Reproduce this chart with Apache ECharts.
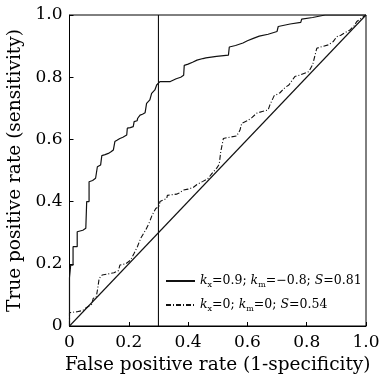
<!DOCTYPE html>
<html>
<head>
<meta charset="utf-8">
<script src="https://cdn.jsdelivr.net/npm/echarts@6/dist/echarts.min.js"></script>
<style>html,body{margin:0;padding:0;background:#fff}#c{width:380px;height:382px}</style>
</head>
<body>
<div id="c"></div>
<script>
// ---- data ----
var tickValues = [0, 0.2, 0.4, 0.6, 0.8, 1.0];
var tickLabels = ['0', '0.2', '0.4', '0.6', '0.8', '1.0'];
var xAxisTitle = 'False positive rate (1-specificity)';
var yAxisTitle = 'True positive rate (sensitivity)';
var nameA = 'kx=0.9; km=-0.8; S=0.81';
var nameB = 'kx=0; km=0; S=0.54';
var curveA = [[0,0],[0,0.155],[0.004,0.155],[0.004,0.196],[0.012,0.196],[0.012,0.255],[0.026,0.255],[0.026,0.303],[0.045,0.308],[0.055,0.314],[0.058,0.314],[0.058,0.40],[0.066,0.40],[0.066,0.464],[0.078,0.468],[0.088,0.475],[0.094,0.475],[0.094,0.512],[0.105,0.518],[0.109,0.518],[0.109,0.548],[0.12,0.551],[0.131,0.555],[0.14,0.56],[0.148,0.566],[0.153,0.566],[0.153,0.593],[0.16,0.597],[0.170,0.603],[0.18,0.607],[0.193,0.614],[0.195,0.614],[0.195,0.636],[0.205,0.638],[0.215,0.641],[0.218,0.657],[0.228,0.66],[0.23,0.668],[0.238,0.678],[0.246,0.681],[0.255,0.686],[0.26,0.716],[0.271,0.727],[0.277,0.748],[0.288,0.759],[0.294,0.775],[0.305,0.786],[0.34,0.786],[0.345,0.79],[0.36,0.795],[0.375,0.80],[0.385,0.806],[0.387,0.838],[0.40,0.842],[0.415,0.848],[0.43,0.855],[0.45,0.86],[0.46,0.862],[0.496,0.867],[0.536,0.871],[0.539,0.897],[0.56,0.902],[0.585,0.91],[0.60,0.917],[0.62,0.925],[0.64,0.932],[0.67,0.938],[0.70,0.947],[0.704,0.963],[0.744,0.971],[0.78,0.976],[0.783,0.987],[0.82,0.992],[0.862,1.0],[1,1]];
var curveB = [[0,0],[0,0.043],[0.006,0.043],[0.026,0.046],[0.045,0.05],[0.055,0.058],[0.066,0.064],[0.075,0.07],[0.08,0.089],[0.09,0.092],[0.095,0.12],[0.1,0.153],[0.11,0.164],[0.15,0.171],[0.165,0.178],[0.17,0.196],[0.19,0.2],[0.206,0.212],[0.218,0.234],[0.229,0.255],[0.24,0.282],[0.257,0.309],[0.268,0.33],[0.279,0.357],[0.291,0.378],[0.302,0.384],[0.305,0.40],[0.328,0.41],[0.33,0.42],[0.361,0.424],[0.37,0.428],[0.384,0.437],[0.40,0.44],[0.418,0.446],[0.43,0.455],[0.45,0.465],[0.468,0.475],[0.48,0.49],[0.496,0.507],[0.505,0.52],[0.51,0.56],[0.519,0.603],[0.54,0.607],[0.564,0.611],[0.575,0.63],[0.581,0.652],[0.60,0.66],[0.615,0.67],[0.631,0.684],[0.65,0.69],[0.67,0.695],[0.676,0.711],[0.69,0.74],[0.71,0.75],[0.727,0.767],[0.74,0.775],[0.76,0.802],[0.78,0.808],[0.807,0.818],[0.82,0.84],[0.834,0.893],[0.85,0.898],[0.873,0.904],[0.89,0.915],[0.901,0.93],[0.915,0.935],[0.929,0.943],[0.946,0.952],[0.96,0.965],[0.969,0.979],[0.985,0.99],[1,1]];
var diagonal = [[0,0],[1,1]];
var cutoffLine = [[0.3,0],[0.3,1]];

// ---- chart ----
var FONT = 'DejaVu Serif';
var richNames = {};
richNames[nameA] = '{i|k}{s|x}{t|=0.9; }{i|k}{s|m}{t|=\u22120.8; }{i|S}{t|=0.81}';
richNames[nameB] = '{i|k}{s|x}{t|=0; }{i|k}{s|m}{t|=0; }{i|S}{t|=0.54}';

function fmt(v){
  for (var i=0;i<tickValues.length;i++){ if (Math.abs(v-tickValues[i])<1e-9) return tickLabels[i]; }
  return '';
}
var axisCommon = {
  type:'value', min:0, max:1, interval:0.2,
  axisLine:{show:true, onZero:false, lineStyle:{color:'#000', width:1}},
  axisTick:{show:true, inside:true, length:4, lineStyle:{color:'#000'}},
  splitLine:{show:false},
  nameLocation:'middle',
  nameTextStyle:{fontFamily:FONT, fontSize:18.5, color:'#000'},
  axisLabel:{fontFamily:FONT, fontSize:17, color:'#000', formatter:fmt}
};
var chart = echarts.init(document.getElementById('c'), null, {renderer:'canvas'});
chart.setOption({
  animation:false,
  backgroundColor:'#fff',
  grid:{left:69.5, right:14, top:15, bottom:56, show:true, borderColor:'#000', borderWidth:1, outerBoundsMode:'none', containLabel:false},
  xAxis: Object.assign({}, axisCommon, {name:xAxisTitle, nameGap:27, axisLabel:Object.assign({}, axisCommon.axisLabel, {margin:8})}),
  yAxis: Object.assign({}, axisCommon, {name:yAxisTitle, nameGap:36, axisLabel:Object.assign({}, axisCommon.axisLabel, {margin:7})}),
  legend:{
    data:[nameA, nameB], orient:'vertical', left:165, top:271, padding:0,
    itemWidth:29, itemHeight:14, itemGap:6,
    itemStyle:{opacity:0},
    formatter:function(n){return richNames[n];},
    textStyle:{fontFamily:FONT, fontSize:12.5, color:'#000',
      rich:{
        t:{fontFamily:FONT, fontSize:12.5, color:'#000', lineHeight:16, verticalAlign:'middle'},
        i:{fontFamily:FONT, fontSize:12.5, fontStyle:'italic', color:'#000', lineHeight:16, verticalAlign:'middle'},
        s:{fontFamily:FONT, fontSize:8, color:'#000', lineHeight:8, padding:[10,0,0,0], verticalAlign:'bottom'}
      }}
  },
  series:[
    {name:nameA, type:'line', data:curveA, symbol:'none', lineStyle:{color:'#111', width:1.2}, itemStyle:{color:'#111'}},
    {name:nameB, type:'line', data:curveB, symbol:'none', lineStyle:{color:'#111', width:1.1, type:[5,2,1,2]}, itemStyle:{color:'#111'}},
    {name:'diag', type:'line', data:diagonal, symbol:'none', lineStyle:{color:'#111', width:1.1}},
    {name:'cut', type:'line', data:cutoffLine, symbol:'none', lineStyle:{color:'#111', width:1.1}}
  ]
});
</script>
</body>
</html>
